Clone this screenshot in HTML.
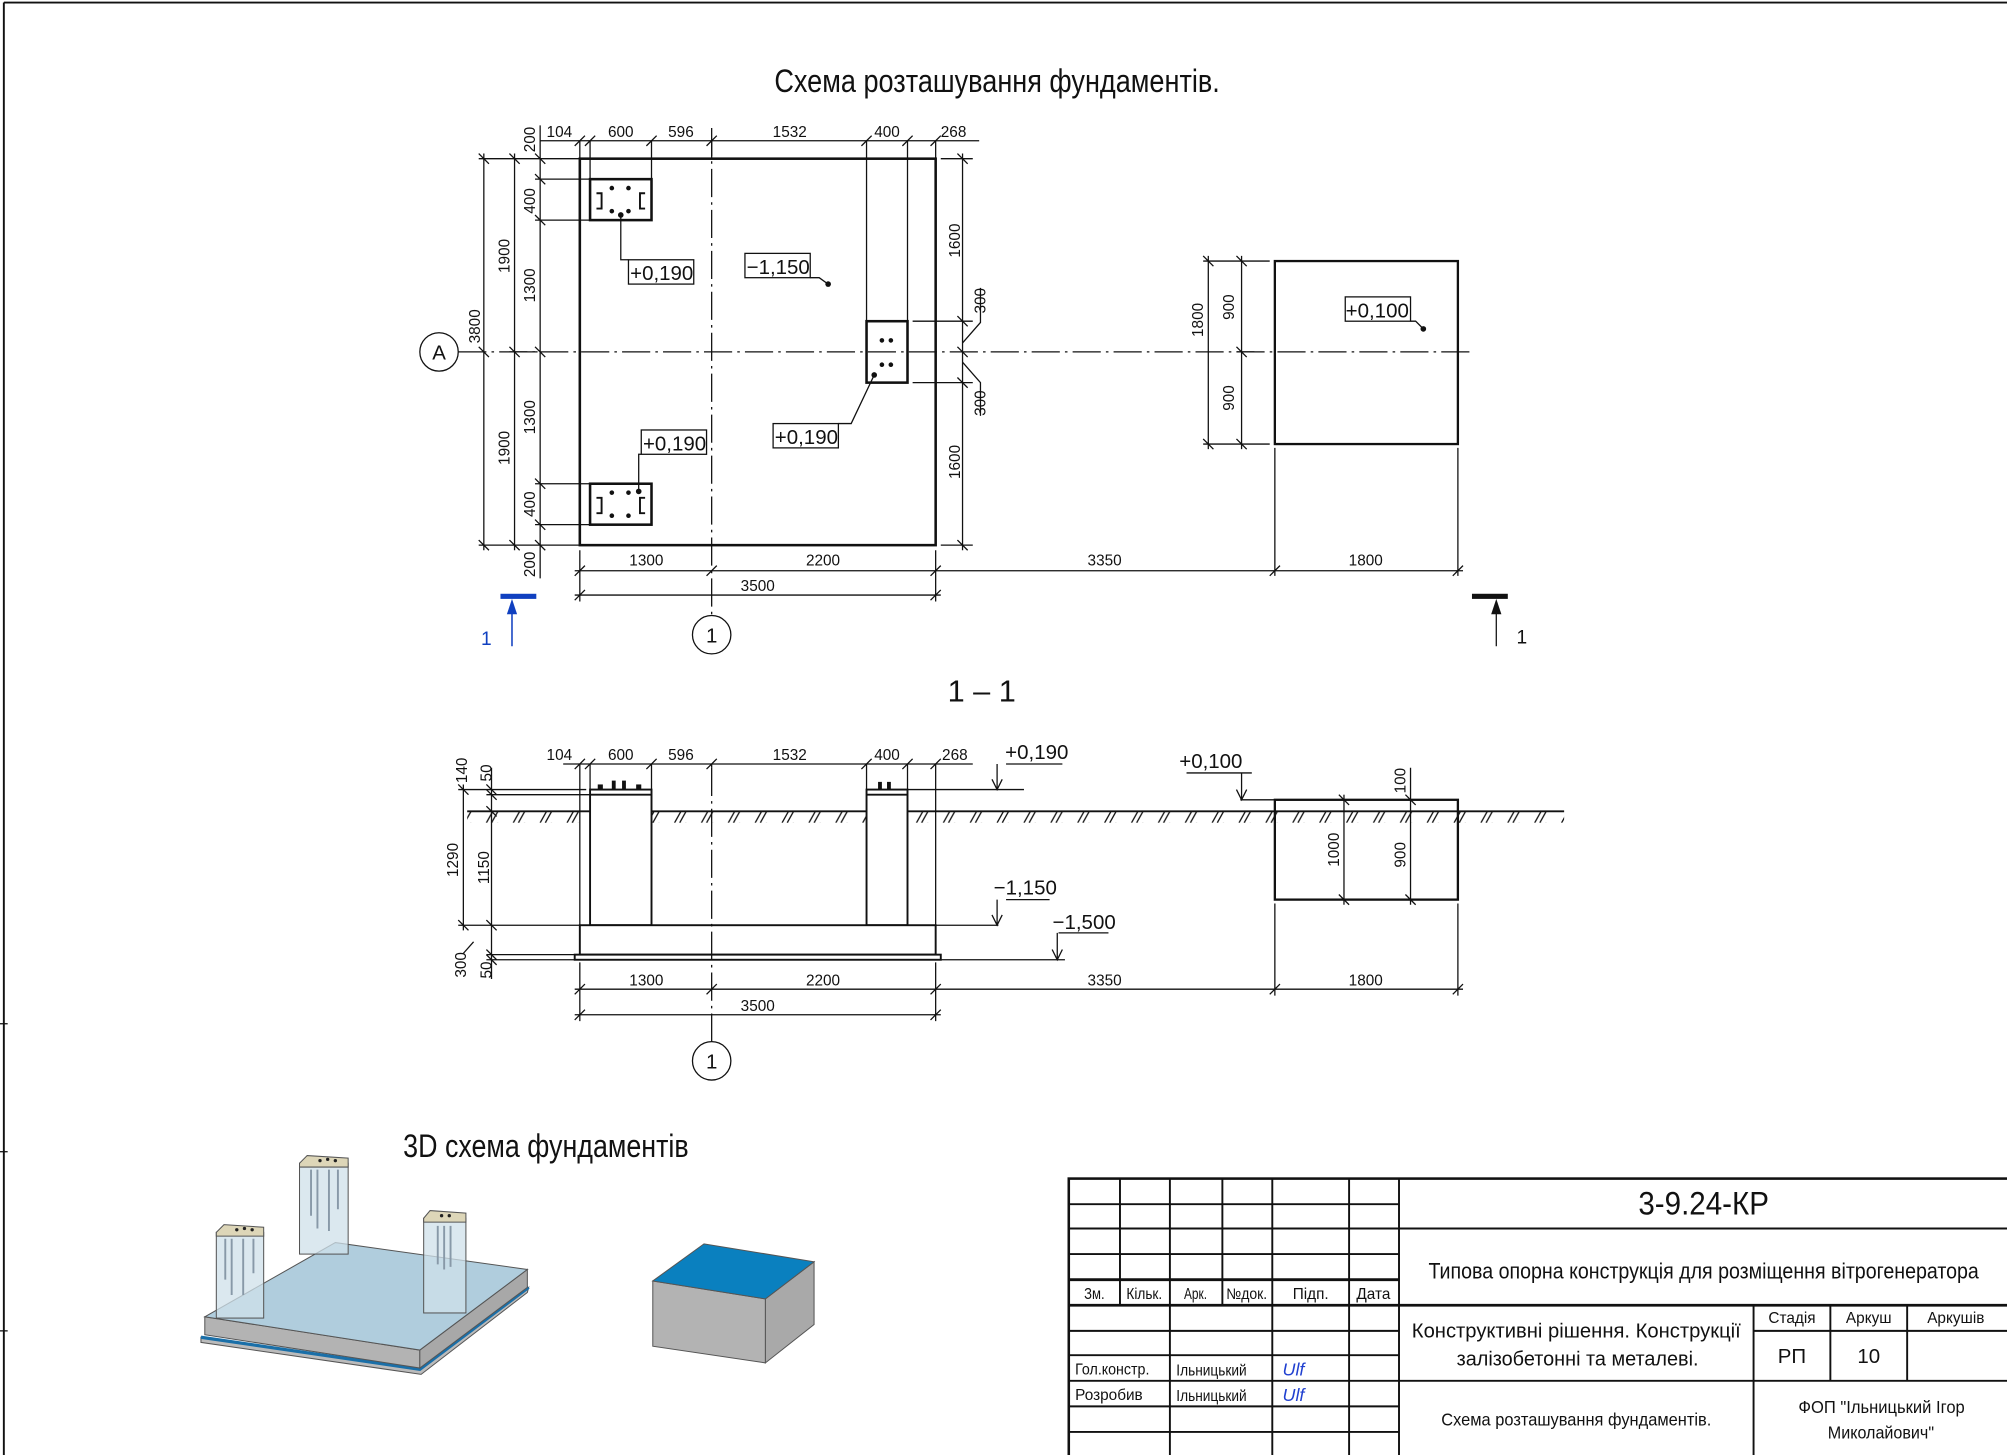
<!DOCTYPE html>
<html><head><meta charset="utf-8"><style>
html,body{margin:0;padding:0;background:#fff;}
svg{display:block;}
text{font-family:"Liberation Sans Narrow","Liberation Sans",sans-serif;fill:#111;}
</style></head><body>
<svg width="2007" height="1455" viewBox="0 0 1568 1137" preserveAspectRatio="none" xmlns="http://www.w3.org/2000/svg">
<defs>
<pattern id="gh" x="0" y="634" width="21" height="9" patternUnits="userSpaceOnUse">
<line x1="2" y1="9" x2="7" y2="0" stroke="#111" stroke-width="1"/>
<line x1="6" y1="9" x2="11" y2="0" stroke="#111" stroke-width="1"/>
</pattern>
</defs>
<rect width="1568" height="1137" fill="#fff"/>
<line x1="3" y1="2" x2="1568" y2="2" stroke="#111" stroke-width="1.5"/>
<line x1="3" y1="2" x2="3" y2="1137" stroke="#111" stroke-width="1.5"/>
<line x1="0" y1="800" x2="6" y2="800" stroke="#111"/><line x1="0" y1="900" x2="6" y2="900" stroke="#111"/><line x1="0" y1="1040" x2="6" y2="1040" stroke="#111"/>

<text x="605" y="72" font-size="25" textLength="348" lengthAdjust="spacingAndGlyphs">Схема розташування фундаментів.</text>

<g stroke="#111" fill="none" stroke-width="1">
<rect x="453" y="124" width="278" height="302" stroke-width="2"/>
<rect x="461" y="140" width="48" height="32" stroke-width="2"/>
<rect x="461" y="378" width="48" height="32" stroke-width="2"/>
<rect x="677" y="251" width="32" height="48" stroke-width="2"/>
<rect x="996" y="204" width="143" height="143" stroke-width="1.8"/>
<line x1="556" y1="100" x2="556" y2="481" stroke-dasharray="22,4,2,4"/>
<line x1="358" y1="275" x2="1152" y2="275" stroke-dasharray="22,4,2,4"/>
<circle cx="343" cy="275" r="15"/>
<circle cx="556" cy="496" r="15"/>
<line x1="422" y1="110" x2="765" y2="110"/>
<path d="M453 110V124M461 110V140M509 110V140M556 110V124M677 110V251M709 110V251M731 110V124"/>
<path d="M449 114l8-8M457 114l8-8M505 114l8-8M552 114l8-8M673 114l8-8M705 114l8-8M727 114l8-8"/>
<line x1="378" y1="120" x2="378" y2="430"/>
<line x1="402" y1="120" x2="402" y2="430"/>
<line x1="422" y1="98" x2="422" y2="452"/>
<path d="M374 124H453M374 426H453M398 275H420M418 140H461M418 172H461M418 378H461M418 410H461"/>
<path d="M374 120l8 8M374 271l8 8M374 422l8 8M398 120l8 8M398 271l8 8M398 422l8 8M418 120l8 8M418 136l8 8M418 168l8 8M418 271l8 8M418 374l8 8M418 406l8 8M418 422l8 8"/>
<line x1="752" y1="120" x2="752" y2="430"/>
<path d="M735 124H760M735 426H760M713 251H760M713 299H760"/>
<path d="M748 120l8 8M748 247l8 8M748 271l8 8M748 295l8 8M748 422l8 8"/>
<path d="M752 268l14-16V225M752 283l14 16V325"/>
<line x1="449" y1="446" x2="1143" y2="446"/>
<line x1="449" y1="465" x2="735" y2="465"/>
<path d="M453 430V470M731 430V470M996 350V450M1139 350V450"/>
<path d="M449 450l8-8M552 450l8-8M727 450l8-8M992 450l8-8M1135 450l8-8M449 469l8-8M727 469l8-8"/>
<line x1="944" y1="200" x2="944" y2="351"/>
<line x1="970" y1="200" x2="970" y2="351"/>
<path d="M940 204H992M940 347H992M966 275H980"/>
<path d="M940 200l8 8M940 343l8 8M966 200l8 8M966 271l8 8M966 343l8 8"/>
<rect x="491" y="203" width="51" height="19"/><path d="M491 203H485V168"/>
<rect x="582" y="198" width="51" height="19"/><path d="M633 217H640L647 222"/>
<rect x="604" y="331" width="51" height="19"/><path d="M655 331H665L683 293"/>
<rect x="501" y="336" width="51" height="19"/><path d="M501 355H499V384"/>
<rect x="1051" y="232" width="51" height="19"/><path d="M1102 251H1106L1112 257"/>
<path d="M400 505V472" stroke="#1040c0" stroke-width="1.2"/>
<path d="M1169 505V472"/>
</g>
<rect x="391" y="464" width="28" height="4" fill="#1040c0"/>
<polygon points="400,468 396,480 404,480" fill="#1040c0"/>
<rect x="1150" y="464" width="28" height="4" fill="#111"/>
<polygon points="1169,468 1165,480 1173,480" fill="#111"/>
<text x="380" y="504" font-size="15" text-anchor="middle" style="fill:#1040c0">1</text>
<text x="1189" y="503" font-size="15" text-anchor="middle">1</text>
<g fill="#111">
<circle cx="478" cy="147" r="1.8"/><circle cx="491" cy="147" r="1.8"/><circle cx="478" cy="165" r="1.8"/><circle cx="491" cy="165" r="1.8"/><circle cx="485" cy="168" r="2.2"/>
<circle cx="478" cy="385" r="1.8"/><circle cx="491" cy="385" r="1.8"/><circle cx="478" cy="403" r="1.8"/><circle cx="491" cy="403" r="1.8"/><circle cx="499" cy="384" r="2.2"/>
<circle cx="689" cy="266" r="1.8"/><circle cx="696" cy="266" r="1.8"/><circle cx="689" cy="285" r="1.8"/><circle cx="696" cy="285" r="1.8"/><circle cx="683" cy="293" r="2.2"/>
<circle cx="647" cy="222" r="2.2"/><circle cx="1112" cy="257" r="2.2"/>
</g>
<g stroke="#111" fill="none" stroke-width="1.5">
<path d="M466 151h4v12h-4M504 151h-4v12h4M466 389h4v12h-4M504 389h-4v12h4"/>
</g>
<g font-size="12" text-anchor="middle">
<text x="437" y="107">104</text><text x="485" y="107">600</text><text x="532" y="107">596</text><text x="617" y="107">1532</text><text x="693" y="107">400</text><text x="745" y="107">268</text>
<text x="505" y="442">1300</text><text x="643" y="442">2200</text><text x="863" y="442">3350</text><text x="1067" y="442">1800</text><text x="592" y="462">3500</text>
<text transform="translate(375,255) rotate(-90)">3800</text>
<text transform="translate(398,200) rotate(-90)">1900</text><text transform="translate(398,350) rotate(-90)">1900</text>
<text transform="translate(418,109) rotate(-90)">200</text><text transform="translate(418,157) rotate(-90)">400</text><text transform="translate(418,223) rotate(-90)">1300</text>
<text transform="translate(418,326) rotate(-90)">1300</text><text transform="translate(418,394) rotate(-90)">400</text><text transform="translate(418,441) rotate(-90)">200</text>
<text transform="translate(750,188) rotate(-90)">1600</text><text transform="translate(750,361) rotate(-90)">1600</text>
<text transform="translate(770,235) rotate(-90)">300</text><text transform="translate(770,315) rotate(-90)">300</text>
<text transform="translate(940,250) rotate(-90)">1800</text><text transform="translate(964,240) rotate(-90)">900</text><text transform="translate(964,311) rotate(-90)">900</text>
</g>
<g font-size="16" text-anchor="middle">
<text x="517" y="219">+0,190</text><text x="608" y="214">−1,150</text><text x="630" y="347">+0,190</text><text x="527" y="352">+0,190</text><text x="1076" y="248">+0,100</text>
<text x="343" y="281">A</text><text x="556" y="502">1</text><text x="556" y="835">1</text>
</g>

<text x="767" y="548" font-size="24" text-anchor="middle">1  – 1</text>
<rect x="365" y="634" width="857" height="9" fill="url(#gh)"/>
<g stroke="#111" fill="none" stroke-width="1">
<line x1="365" y1="634" x2="1222" y2="634" stroke-width="1.5"/>
<rect x="461" y="617" width="48" height="106" fill="#fff" stroke-width="1.5"/>
<line x1="461" y1="621" x2="509" y2="621" stroke-width="1.5"/>
<rect x="677" y="617" width="32" height="106" fill="#fff" stroke-width="1.5"/>
<line x1="677" y1="621" x2="709" y2="621" stroke-width="1.5"/>
<rect x="453" y="723" width="278" height="23" fill="#fff" stroke-width="1.5"/>
<rect x="449" y="746" width="286" height="4" fill="#fff" stroke-width="1.5"/>
<rect x="996" y="625" width="143" height="78" stroke-width="1.8"/>
<line x1="556" y1="600" x2="556" y2="815" stroke-dasharray="22,4,2,4"/>
<circle cx="556" cy="829" r="15"/>
<line x1="440" y1="597" x2="760" y2="597"/>
<path d="M453 597V723M461 597V617M509 597V617M556 597V600M677 597V617M709 597V617M731 597V723"/>
<path d="M449 601l8-8M457 601l8-8M505 601l8-8M552 601l8-8M673 601l8-8M705 601l8-8M727 601l8-8"/>
<path d="M709 617H800M786 597H830M779 597V617"/><path d="M775 609l4 8 4-8"/>
<path d="M731 723H780M786 703H820M779 703V723"/><path d="M775 715l4 8 4-8"/>
<path d="M735 750H832M827 729H866M826 729V750"/><path d="M822 742l4 8 4-8"/>
<path d="M969 625H996M927 604H978M970 604V625"/><path d="M966 617l4 8 4-8"/>
<line x1="362" y1="613" x2="362" y2="727"/><line x1="384" y1="600" x2="384" y2="765"/>
<path d="M358 617H458M380 621H461M358 723H453M380 746H449M380 750H449"/>
<path d="M358 613l8 8M380 613l8 8M380 617l8 8M380 630l8 8M358 719l8 8M380 719l8 8M380 742l8 8M380 746l8 8"/>
<path d="M362 745l8-9"/>
<line x1="449" y1="773" x2="1143" y2="773"/><line x1="449" y1="793" x2="735" y2="793"/>
<path d="M453 752V798M731 752V798M996 706V778M1139 706V778"/>
<path d="M449 777l8-8M552 777l8-8M727 777l8-8M992 777l8-8M1135 777l8-8M449 797l8-8M727 797l8-8"/>
<line x1="1050" y1="621" x2="1050" y2="707"/><line x1="1102" y1="600" x2="1102" y2="707"/>
<path d="M1046 621l8 8M1098 621l8 8M1046 699l8 8M1098 699l8 8"/>
</g>
<g fill="#111"><rect x="467" y="613" width="4" height="4"/><rect x="478" y="610" width="3" height="7"/><rect x="486" y="610" width="3" height="7"/><rect x="497" y="613" width="4" height="4"/><rect x="686" y="611" width="3" height="6"/><rect x="693" y="611" width="3" height="6"/></g>
<g font-size="12" text-anchor="middle">
<text x="437" y="594">104</text><text x="485" y="594">600</text><text x="532" y="594">596</text><text x="617" y="594">1532</text><text x="693" y="594">400</text><text x="746" y="594">268</text>
<text x="505" y="770">1300</text><text x="643" y="770">2200</text><text x="863" y="770">3350</text><text x="1067" y="770">1800</text><text x="592" y="790">3500</text>
<text transform="translate(365,602) rotate(-90)">140</text><text transform="translate(384,604) rotate(-90)">50</text>
<text transform="translate(358,672) rotate(-90)">1290</text><text transform="translate(382,678) rotate(-90)">1150</text>
<text transform="translate(364,754) rotate(-90)">300</text><text transform="translate(384,758) rotate(-90)">50</text>
<text transform="translate(1046,664) rotate(-90)">1000</text><text transform="translate(1098,668) rotate(-90)">900</text><text transform="translate(1098,610) rotate(-90)">100</text>
</g>
<g font-size="16" text-anchor="middle">
<text x="810" y="593">+0,190</text><text x="946" y="600">+0,100</text><text x="801" y="699">−1,150</text><text x="847" y="726">−1,500</text>
</g>

<text x="315" y="904" font-size="25" textLength="223" lengthAdjust="spacingAndGlyphs">3D схема фундаментів</text>
<g stroke="#555" stroke-width="0.8">
<polygon points="157,1045 328,1070 413,1006 412,1010 329,1074 157,1049" fill="#bbb"/>
<polyline points="157,1045 328,1070 413,1006" fill="none" stroke="#1a6fa8" stroke-width="2.5"/>
<polygon points="160,1029 328,1055 328,1069 160,1043" fill="#b3b3b3"/>
<polygon points="328,1055 412,992 412,1006 328,1069" fill="#a8a8a8"/>
<polygon points="160,1029 262,971 412,992 328,1055" fill="#b0cddd"/>
<g fill="#cfe0ea" fill-opacity="0.75">
<rect x="234" y="909" width="38" height="71"/><rect x="169" y="963" width="37" height="67"/><rect x="331" y="952" width="33" height="74"/>
</g>
<g fill="#ddd6b8">
<polygon points="234,909 240,903 272,905 272,912 234,912"/><polygon points="169,963 175,957 206,959 206,966 169,966"/><polygon points="331,952 336,946 364,948 364,955 331,955"/>
</g>
<g stroke="#8899a8" stroke-width="1.5">
<path d="M243 914V950M248 914V960M257 914V962M264 914V945"/><path d="M176 968V1000M181 968V1012M190 968V1012M198 968V995"/><path d="M342 958V988M347 958V992M352 958V990"/>
</g>
<polygon points="510,1001 598,1015 598,1065 510,1052" fill="#b3b3b3"/>
<polygon points="598,1015 636,986 636,1035 598,1065" fill="#a9a9a9"/>
<polygon points="510,1001 550,972 636,986 598,1015" fill="#0a80bf"/>
</g>
<g fill="#222"><circle cx="250" cy="907" r="1.3"/><circle cx="256" cy="906" r="1.3"/><circle cx="262" cy="907" r="1.3"/><circle cx="185" cy="961" r="1.3"/><circle cx="191" cy="960" r="1.3"/><circle cx="197" cy="961" r="1.3"/><circle cx="345" cy="950" r="1.3"/><circle cx="351" cy="950" r="1.3"/></g>

<g stroke="#111" fill="none" stroke-width="1.5">
<rect x="835" y="921" width="740" height="220" stroke-width="2"/>
<path d="M875 921V1020M955 921V1020M914 921V1137M994 921V1137M1054 921V1137M1093 921V1137"/>
<path d="M835 941H1093M835 960H1568M835 980H1093M835 1000H1093M835 1040H1093M835 1059H1093M835 1079H1568M835 1099H1093M835 1119H1093"/>
<path d="M835 1000H1093M835 1020H1568" stroke-width="2.2"/>
<path d="M1370 1020V1137M1430 1020V1079M1490 1020V1079M1370 1040H1568"/>
</g>
<g font-size="12" text-anchor="middle">
<text x="855" y="1015" textLength="16" lengthAdjust="spacingAndGlyphs">Зм.</text><text x="894" y="1015" textLength="28" lengthAdjust="spacingAndGlyphs">Кільк.</text><text x="934" y="1015" textLength="18" lengthAdjust="spacingAndGlyphs">Арк.</text><text x="974" y="1015" textLength="32" lengthAdjust="spacingAndGlyphs">№док.</text><text x="1024" y="1015">Підп.</text><text x="1073" y="1015">Дата</text>
<text x="1400" y="1034">Стадія</text><text x="1460" y="1034">Аркуш</text><text x="1528" y="1034">Аркушів</text>
</g>
<g font-size="12">
<text x="840" y="1074" textLength="58" lengthAdjust="spacingAndGlyphs">Гол.констр.</text><text x="919" y="1075" textLength="55" lengthAdjust="spacingAndGlyphs">Ільницький</text>
<text x="840" y="1094">Розробив</text><text x="919" y="1095" textLength="55" lengthAdjust="spacingAndGlyphs">Ільницький</text>
</g>
<g font-size="14" font-style="italic"><text x="1002" y="1075" style="fill:#2040d0">Ulf</text><text x="1002" y="1095" style="fill:#2040d0">Ulf</text></g>
<text x="1280" y="949" font-size="25" textLength="102" lengthAdjust="spacingAndGlyphs">3-9.24-КР</text>
<text x="1116" y="999" font-size="17" textLength="430" lengthAdjust="spacingAndGlyphs">Типова опорна конструкція для розміщення вітрогенератора</text>
<text x="1103" y="1045" font-size="16" textLength="257" lengthAdjust="spacingAndGlyphs">Конструктивні рішення. Конструкції</text>
<text x="1138" y="1067" font-size="16" textLength="189" lengthAdjust="spacingAndGlyphs">залізобетонні та металеві.</text>
<text x="1126" y="1114" font-size="14" textLength="211" lengthAdjust="spacingAndGlyphs">Схема розташування фундаментів.</text>
<g text-anchor="middle">
<text x="1400" y="1065" font-size="16">РП</text><text x="1460" y="1065" font-size="16">10</text>
</g>
<text x="1405" y="1104" font-size="14" textLength="130" lengthAdjust="spacingAndGlyphs">ФОП "Ільницький Ігор</text>
<text x="1428" y="1124" font-size="14" textLength="83" lengthAdjust="spacingAndGlyphs">Миколайович"</text>
</svg>
</body></html>
